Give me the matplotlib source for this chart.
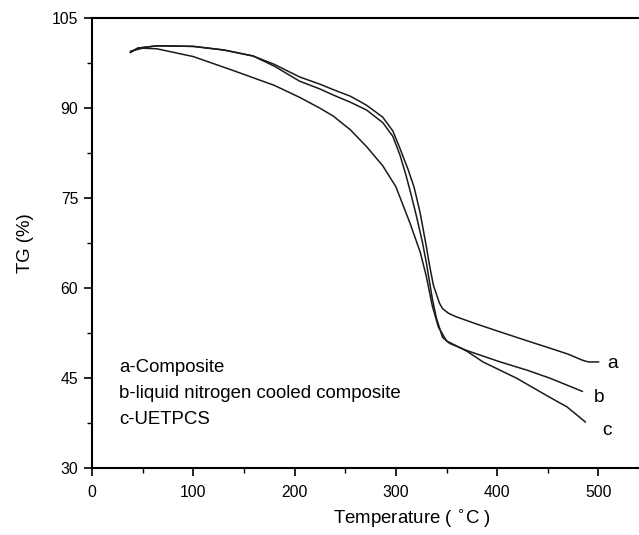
import numpy as np
import matplotlib
matplotlib.use('Agg')
import matplotlib.pyplot as plt
from matplotlib.ticker import MultipleLocator

plt.rcParams['font.family'] = ['Liberation Sans', 'DejaVu Sans']

# TG curves (temperature in C, weight in %)
temp_a = [38, 45, 64, 100, 130, 159, 180, 205, 225, 238, 255, 271, 287, 297, 304,
          312, 318, 324, 330, 333, 337, 343, 346, 352, 360, 380, 403, 430, 452,
          470, 484, 490, 500]
tg_a = [99.3, 100.0, 100.4, 100.3, 99.7, 98.7, 97.3, 95.2, 94.0, 93.1, 92.0, 90.5,
        88.5, 86.2, 83.3, 79.8, 76.8, 72.5, 67.0, 64.0, 60.5, 57.5, 56.6, 55.8,
        55.2, 54.0, 52.7, 51.2, 50.0, 49.0, 48.0, 47.7, 47.7]

temp_b = [38, 45, 64, 100, 130, 159, 180, 205, 225, 238, 255, 271, 287, 297, 304,
          310, 315, 320, 326, 330, 336, 340, 346, 353, 370, 403, 430, 452, 484]
tg_b = [99.3, 100.0, 100.4, 100.3, 99.7, 98.7, 97.0, 94.5, 93.2, 92.2, 91.0, 89.7,
        87.6, 85.3, 82.2, 78.8, 75.6, 72.2, 67.8, 64.3, 58.2, 55.0, 51.8, 50.8,
        49.6, 47.7, 46.3, 45.0, 42.8]

temp_c = [38, 50, 64, 100, 139, 180, 205, 225, 238, 255, 271, 287, 300, 314, 324,
          330, 336, 342, 350, 370, 386, 419, 452, 469, 487]
tg_c = [99.5, 100.0, 99.9, 98.6, 96.3, 93.8, 91.8, 90.0, 88.7, 86.4, 83.6, 80.4,
        76.9, 70.8, 66.0, 62.0, 57.0, 53.5, 51.2, 49.5, 47.7, 45.0, 41.8, 40.2, 37.7]

legend_lines = ['a-Composite', 'b-liquid nitrogen cooled composite', 'c-UETPCS']
curve_tags = ['a', 'b', 'c']
tag_x = [509, 495, 504]
tag_y = [47.5, 41.8, 36.3]

fig = plt.figure(figsize=(6.39, 5.35), dpi=100)
ax = fig.add_axes([0.144, 0.125, 0.856, 0.841])

for t, w in [(temp_a, tg_a), (temp_b, tg_b), (temp_c, tg_c)]:
    ax.plot(t, w, color='#1a1a1a', lw=1.1)

ax.set_xlim(0, 540)
ax.set_ylim(30, 105)
ax.xaxis.set_major_locator(MultipleLocator(100))
ax.xaxis.set_minor_locator(MultipleLocator(50))
ax.yaxis.set_major_locator(MultipleLocator(15))
ax.yaxis.set_minor_locator(MultipleLocator(7.5))
ax.tick_params(which='major', direction='out', length=6, width=1.2, labelsize=11.3)
ax.tick_params(which='minor', direction='out', length=3.5, width=1.0)
ax.tick_params(axis='x', which='major', pad=6)
ax.tick_params(axis='y', which='major', pad=4)
ax.tick_params(top=False, right=False, which='both')

ax.spines['right'].set_visible(False)
for s in ['left', 'bottom', 'top']:
    ax.spines[s].set_linewidth(1.5)

ax.set_xlabel('Temperature ( $^{\\circ}$C )', fontsize=13.4, va='center')
ax.xaxis.set_label_coords(0.585, -0.111)
ax.set_ylabel('TG (%)', fontsize=13.4, va='center')
ax.yaxis.set_label_coords(-0.122, 0.5)

for i, txt in enumerate(legend_lines):
    ax.text(27, 46.7 - i * 4.3, txt, fontsize=13.4, va='center', ha='left')

for tag, x, y in zip(curve_tags, tag_x, tag_y):
    ax.text(x, y, tag, fontsize=13.8, va='center', ha='left')

fig.savefig('out.png', dpi=100)
